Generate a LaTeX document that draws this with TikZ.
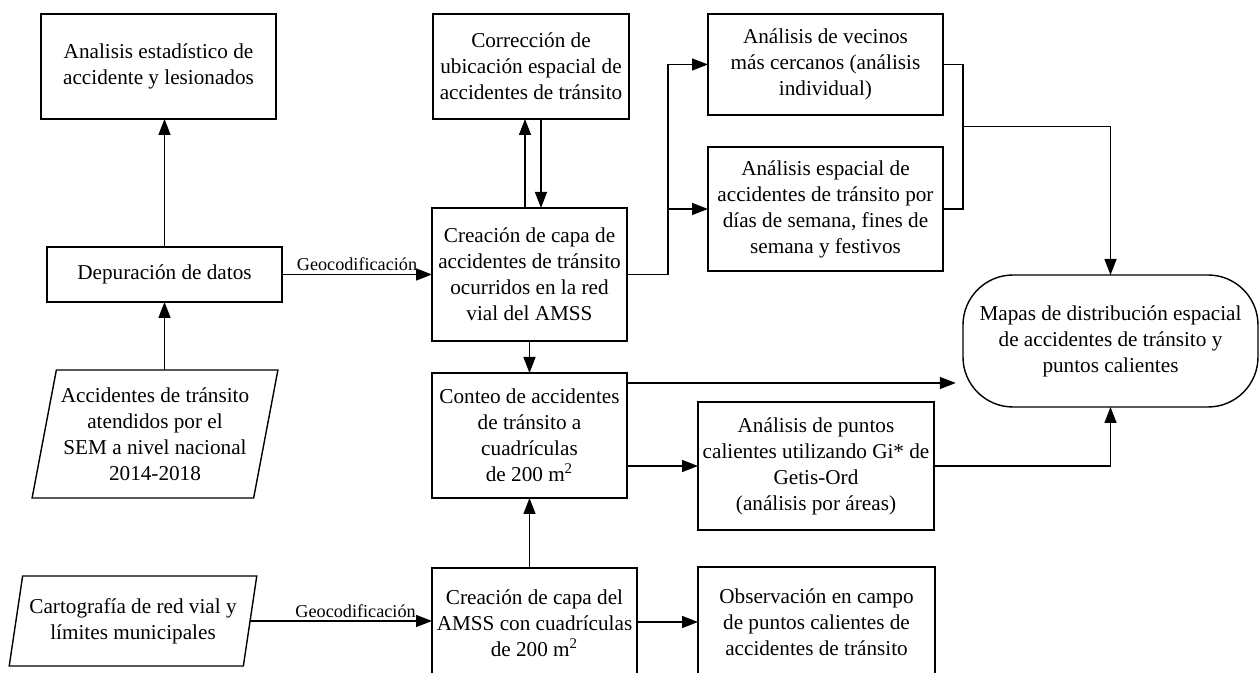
\documentclass[tikz,border=0pt]{standalone}
\usepackage{fontspec}
\setmainfont{Liberation Serif}
\usepackage{tikz}
\usetikzlibrary{shapes.geometric, arrows.meta, positioning, calc}
\tikzset{
  flowbox/.style={rectangle, draw=black, line width=0.7pt, inner sep=0pt, outer sep=0pt, align=center, font=\fontsize{10.6}{13}\selectfont},
  databox/.style={trapezium, trapezium stretches=true, trapezium left angle=76, trapezium right angle=104, draw=black, line width=0.7pt, inner sep=0pt, outer sep=0pt, align=center, font=\fontsize{10.6}{13}\selectfont},
  mapbox/.style={rectangle, rounded corners=25pt, draw=black, line width=0.7pt, inner sep=0pt, outer sep=0pt, align=center, font=\fontsize{10.6}{13}\selectfont},
  arrow/.style={-{Triangle[length=8pt,width=6pt]}, line width=0.7pt, black},
  geolabel/.style={font=\fontsize{9.1}{11}\selectfont, inner sep=1.5pt}
}

\begin{document}
\begin{tikzpicture}[x=0.5pt, y=-0.5pt]
  \useasboundingbox (0,0) rectangle (1260,673);
  \clip (0,0) rectangle (1260,673);

  % Left column
  \node[flowbox, minimum width=117.5pt, minimum height=52.5pt] (stats) at (158.5,66.5) {Analisis estadístico de\\accidente y lesionados};
  \node[flowbox, minimum width=117.5pt, minimum height=27.5pt] (clean) at (164.5,274.5) {Depuración de datos};
  \node[databox, minimum width=123pt, minimum height=64pt] (sem) at (155,434) {Accidentes de tránsito\\atendidos por el\\SEM a nivel nacional\\2014-2018};
  \node[databox, trapezium left angle=74.5, trapezium right angle=105.5, minimum width=124pt, minimum height=45pt] (carto) at (133,621) {Cartografía de red vial y\\límites municipales};

  % Middle column
  \node[flowbox, minimum width=98pt, minimum height=52.5pt] (fix) at (531,66.5) {Corrección de\\ubicación espacial de\\accidentes de tránsito};
  \node[flowbox, minimum width=97.5pt, minimum height=66.5pt] (layer) at (529.5,274.5) {Creación de capa de\\accidentes de tránsito\\ocurridos en la red\\vial del AMSS};
  \node[flowbox, minimum width=97.5pt, minimum height=62.5pt] (count) at (529.5,435.5) {Conteo de accidentes\\de tránsito a\\cuadrículas\\de 200 m\textsuperscript{2}};
  \node[flowbox, minimum width=102.5pt, minimum height=55pt] (grid) at (534.5,623) {Creación de capa del\\AMSS con cuadrículas\\de 200 m\textsuperscript{2}};

  % Right column
  \node[flowbox, minimum width=117.5pt, minimum height=50.5pt] (near) at (825.5,64.5) {Análisis de vecinos\\más cercanos (análisis\\individual)};
  \node[flowbox, minimum width=117.5pt, minimum height=62pt] (days) at (825.5,209) {Análisis espacial de\\accidentes de tránsito por\\días de semana, fines de\\semana y festivos};
  \node[flowbox, minimum width=118pt, minimum height=64pt] (hot) at (816,466) {Análisis de puntos\\calientes utilizando Gi* de\\Getis-Ord\\(análisis por áreas)};
  \node[flowbox, minimum width=118.5pt, minimum height=55pt] (field) at (816.5,622) {Observación en campo\\de puntos calientes de\\accidentes de tránsito};
  \node[mapbox, minimum width=147.5pt, minimum height=66pt] (maps) at (1110.5,341) {Mapas de distribución espacial\\de accidentes de tránsito y\\puntos calientes};

  % Arrows
  \draw[arrow] (clean.south |- sem.north) -- (clean.south);
  \draw[arrow] (clean.north) -- (clean.north |- stats.south);
  \draw[arrow] (clean) -- node[geolabel, above] {Geocodificación} (layer);
  \draw[arrow] (carto.east) -- node[geolabel, above, pos=0.58] {Geocodificación} (carto.east -| grid.west);

  \draw[arrow] ([xshift=-2.25pt]layer.north) -- ([xshift=-2.25pt]layer.north |- fix.south);
  \draw[arrow] ([xshift=5.75pt]layer.north |- fix.south) -- ([xshift=5.75pt]layer.north);
  \draw[arrow] (layer.east) -- ++(20.5pt,0) |- (near.west);
  \draw[arrow] (layer.east) -- ++(20.5pt,0) |- (days.west);
  \draw[arrow] (layer.south) -- (count.north);
  \draw[arrow] (count.south |- grid.north) -- (count.south);

  \draw[line width=0.7pt] (near.east) -- ++(10pt,0) coordinate (nearx) |- (days.east);
  \coordinate (join) at ($(nearx)!0.43!(nearx |- days.east)$);
  \draw[arrow] (join) -| (maps.north);

  \draw[arrow, shorten >=3.6pt] ([yshift=-5pt]count.north east) -- ([yshift=-5pt]count.north east -| maps.west);
  \draw[arrow] (count.east |- hot.west) -- (hot.west);
  \draw[arrow] (hot.east) -| (maps.south);
  \draw[arrow] (grid.east |- field.west) -- (field.west);
\end{tikzpicture}
\end{document}
